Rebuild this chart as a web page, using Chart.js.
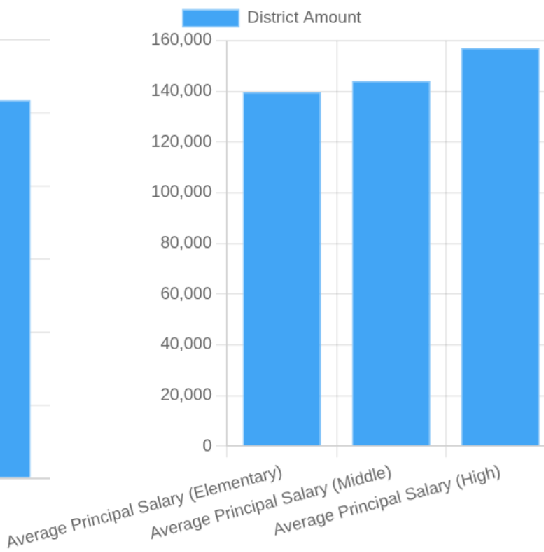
<!DOCTYPE html>
<html>
<head>
<meta charset="utf-8">
<script src="https://cdn.jsdelivr.net/npm/chart.js@4"></script>
<style>
  html, body { margin: 0; padding: 0; background: #fff; overflow: hidden; width: 544px; height: 552px; }
  #wrap { position: absolute; left: 0; top: 0; transform: scale(1.4); transform-origin: 0 0; }
  #leftBox { position: absolute; left: -76px; top: 0; width: 112px; height: 349px; }
  #mainBox { position: absolute; left: -8px; top: -3px; width: 404px; height: 401px; }
</style>
</head>
<body>
<div id="wrap">
  <div id="leftBox"><canvas id="leftChart"></canvas></div>
  <div id="mainBox"><canvas id="mainChart"></canvas></div>
</div>
<script>
// main chart
var categories = [
  'Average Principal Salary (Elementary)',
  'Average Principal Salary (Middle)',
  'Average Principal Salary (High)'
];
var districtAmount = [139800, 144200, 157200];

// neighbouring chart, mostly cut off on the left
var leftCategories = [''];
var leftValues = [51800];

var fill = 'rgba(66, 165, 245, 1)';
var edge = 'rgba(144, 202, 249, 1)';
var dpr = 1.4;

Chart.defaults.font.family = 'Helvetica, "Liberation Sans", Arial, sans-serif';
Chart.defaults.color = '#666';

new Chart(document.getElementById('leftChart'), {
  type: 'bar',
  data: {
    labels: leftCategories,
    datasets: [{
      label: 'District Amount',
      data: leftValues,
      backgroundColor: fill,
      borderColor: edge,
      borderWidth: 1
    }]
  },
  options: {
    devicePixelRatio: dpr,
    maintainAspectRatio: false,
    animation: false,
    layout: { padding: { top: 28.6 } },
    plugins: { legend: { display: false }, tooltip: { enabled: false } },
    scales: {
      x: { grid: { display: false }, ticks: { display: false } },
      y: { min: 0, max: 60000, ticks: { stepSize: 10000, display: false } }
    }
  }
});

new Chart(document.getElementById('mainChart'), {
  type: 'bar',
  data: {
    labels: categories,
    datasets: [{
      label: 'District Amount',
      data: districtAmount,
      backgroundColor: fill,
      borderColor: edge,
      borderWidth: 1
    }]
  },
  options: {
    devicePixelRatio: dpr,
    maintainAspectRatio: false,
    animation: false,
    plugins: { legend: { display: true } },
    scales: {
      y: { beginAtZero: true, max: 160000, ticks: { stepSize: 20000 } }
    }
  }
});
</script>
</body>
</html>
